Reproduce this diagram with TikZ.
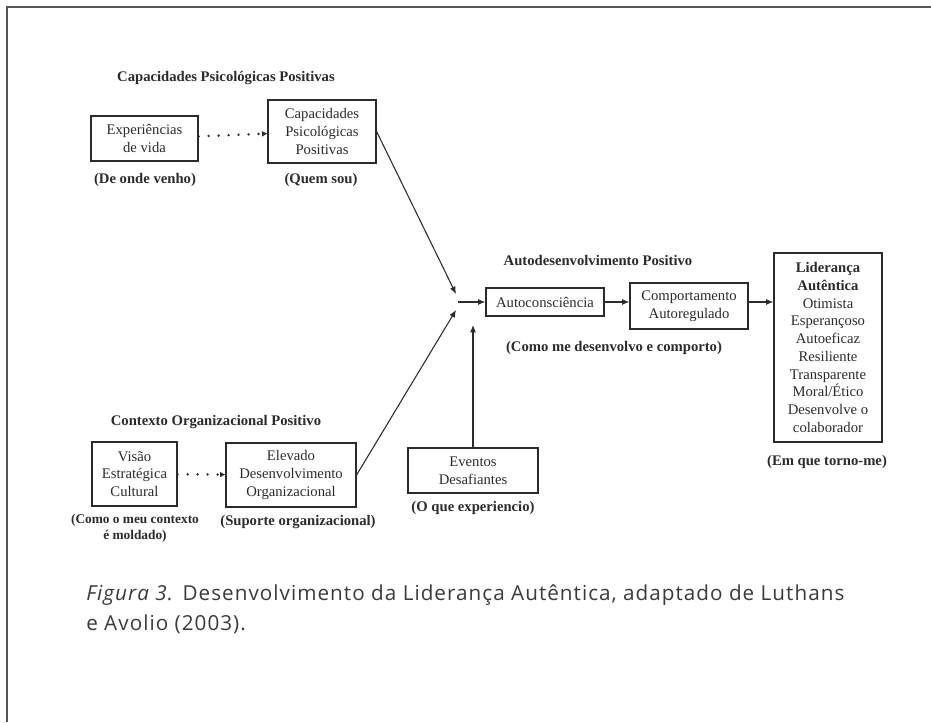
\documentclass[tikz,border=0pt]{standalone}
\usepackage{fontspec}
\setmainfont{Liberation Serif}
\newfontfamily\legenda{Open Sans}[LetterSpace=5]
\usepackage{tikz}
\usetikzlibrary{arrows.meta}
\usepackage{xcolor}
\definecolor{tinta}{HTML}{2B2B2B}
\definecolor{moldura}{HTML}{555555}
\definecolor{cinza}{HTML}{3A3A3A}

\tikzset{
  caixa/.style={draw=tinta, line width=0.9pt, align=center, inner sep=2pt,
    text=tinta, font=\fontsize{11}{13.3}\selectfont},
  rotulo/.style={text=tinta, align=center, font=\fontsize{11}{13.3}\selectfont\bfseries},
  seta/.style={draw=tinta, line width=0.8pt, -{Latex[length=5.5pt,width=4.5pt]}},
  pontos/.style={draw=tinta, line width=2pt, line cap=round, dash pattern=on 0pt off 7.5pt,
    -{Latex[length=4pt,width=4pt,line width=0pt]}}
}

\begin{document}
\begin{tikzpicture}[x=0.75pt, y=-0.75pt]
    \useasboundingbox (0,0) rectangle (931,722);
    % Moldura
    \draw[moldura, line width=1.5pt] (7,722) -- (7,7) -- (931,7);
    % Capacidades
    \node[rotulo] (tcap) at (226,78) {Capacidades Psicológicas Positivas};
    \node[caixa, minimum width=107*0.75pt, minimum height=45*0.75pt] (exp) at (144.5,138.5) {Experiências\\de vida};
    \node[caixa, minimum width=108*0.75pt, minimum height=63*0.75pt] (cap) at (322,131.5) {Capacidades\\Psicológicas\\Positivas};
    \node[rotulo] (lexp) at (145,180) {(De onde venho)};
    \node[rotulo] (lcap) at (321,180) {(Quem sou)};
    \draw[pontos] (exp) -- (cap);
    % Contexto
    \node[rotulo] (tctx) at (216,422) {Contexto Organizacional Positivo};
    \node[caixa, minimum width=85*0.75pt, minimum height=64*0.75pt] (vis) at (134.5,474) {Visão\\Estratégica\\Cultural};
    \node[caixa, minimum width=130*0.75pt, minimum height=64*0.75pt] (elev) at (291,475) {Elevado\\Desenvolvimento\\Organizacional};
    \node[rotulo, font=\fontsize{10}{12}\selectfont\bfseries] (lvis) at (135,528) {(Como o meu contexto\\é moldado)};
    \node[rotulo] (lelev) at (298,522) {(Suporte organizacional)};
    \draw[pontos] (vis) -- (elev);
    % Eventos
    \node[caixa, minimum width=130*0.75pt, minimum height=45*0.75pt] (even) at (473,470.5) {Eventos\\Desafiantes};
    \node[rotulo] (leven) at (473,508) {(O que experiencio)};
    % Autodesenvolvimento
    \node[rotulo] (tauto) at (598,260) {Autodesenvolvimento Positivo};
    \node[caixa, minimum width=118*0.75pt, minimum height=28*0.75pt] (auto) at (545,302) {Autoconsciência};
    \node[caixa, minimum width=118*0.75pt, minimum height=46*0.75pt] (comp) at (689,306) {Comportamento\\Autoregulado};
    \node[rotulo] (lauto) at (614,348) {(Como me desenvolvo e comporto)};
    % Liderança
    \node[caixa, minimum width=108*0.75pt, minimum height=189*0.75pt] (lid) at (828,347.5)
      {\textbf{Liderança}\\\textbf{Autêntica}\\Otimista\\Esperançoso\\Autoeficaz\\Resiliente\\Transparente\\Moral/Ético\\Desenvolve o\\colaborador};
    \node[rotulo] (llid) at (827,462) {(Em que torno-me)};
    % Setas
    \coordinate (jcima) at (456,294);
    \coordinate (jbaixo) at (456,310);
    \coordinate (jmeio) at (458,302);
    \draw[seta] (cap.east) -- (jcima);
    \draw[seta] (elev.east) -- (jbaixo);
    \draw[seta] (even.north) -- (473,325);
    \draw[seta] (jmeio) -- (auto.west);
    \draw[seta] (auto.east) -- (auto.east -| comp.west);
    \draw[seta] (comp.east |- auto.east) -- (lid.west |- auto.east);
    % Legenda
    \node[anchor=base west, align=left, text=cinza, inner sep=0pt,
      font=\legenda\fontsize{15.5}{22.5}\selectfont] (leg) at (86,630)
      {\textit{Figura 3.} Desenvolvimento da Liderança Autêntica, adaptado de Luthans\\e Avolio (2003).};
\end{tikzpicture}
\end{document}
